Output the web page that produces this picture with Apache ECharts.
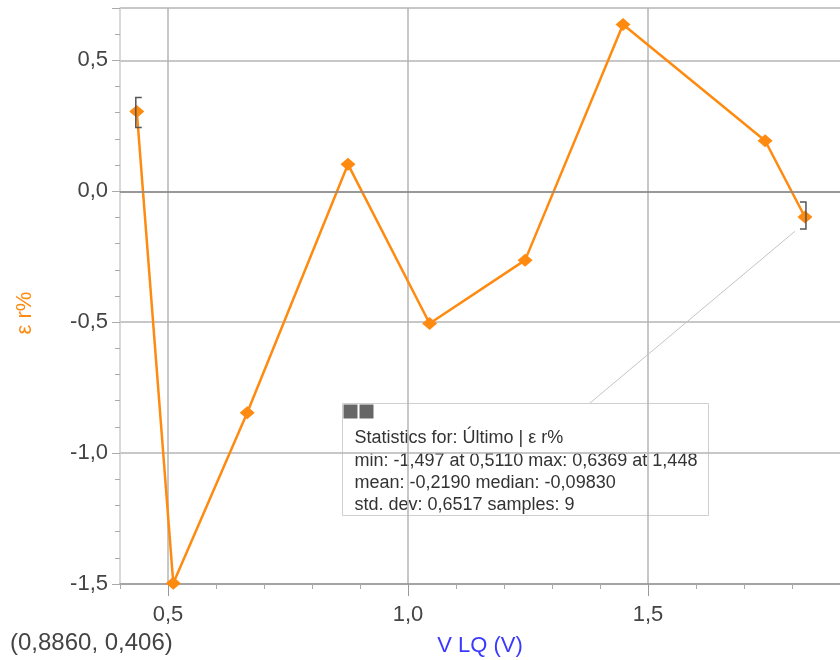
<!DOCTYPE html>
<html>
<head>
<meta charset="utf-8">
<script src="https://cdn.jsdelivr.net/npm/echarts@6/dist/echarts.min.js"></script>
<style>
  html, body { margin: 0; padding: 0; background: #fff; }
  #chart { width: 840px; height: 660px; }
</style>
</head>
<body>
<div id="chart"></div>
<script>
// Measured run: strain error vs. LQ voltage
const vlq = [0.435, 0.511, 0.665, 0.875, 1.045, 1.244, 1.448, 1.744, 1.827];
const strainErr = [0.305, -1.497, -0.846, 0.103, -0.505, -0.263, 0.6369, 0.193, -0.0983];

const xMajorTicks = [0.5, 1.0, 1.5];
const xRange = [0.4, 1.9];
const yRange = [-1.5, 0.7];

// Selection brackets at the first and last samples (index, side)
const brackets = [[0, 'left'], [8, 'right']];

// Leader line from the statistics box to the last sample
const leader = [[1.379, -0.809], [1.806, -0.153]];

const statsLines = [
  'Statistics for: Último | ε r%',
  'min: -1,497 at 0,5110 max: 0,6369 at 1,448',
  'mean: -0,2190 median: -0,09830',
  'std. dev: 0,6517 samples: 9'
];
const cursorText = '(0,8860, 0,406)';

const orange = '#ff8a10';
const font = '"Liberation Sans", Arial, sans-serif';
const fmt = v => v.toFixed(1).replace('.', ',');

const chart = echarts.init(document.getElementById('chart'));

chart.setOption({
  animation: false,
  grid: { left: 120, right: 0, top: 8, bottom: 76, outerBoundsMode: 'none', containLabel: false },
  xAxis: [
    {
      type: 'value', min: xRange[0], max: xRange[1], interval: 0.1,
      axisLine: { onZero: false, lineStyle: { color: '#999', width: 1.5 } },
      axisTick: { show: true, length: 5, lineStyle: { color: '#aaa' } },
      axisLabel: {
        customValues: xMajorTicks, formatter: fmt,
        color: '#444', fontSize: 22, fontFamily: font, margin: 20
      },
      splitLine: { show: false },
      name: 'V LQ (V)', nameLocation: 'middle', nameGap: 51,
      nameTextStyle: { color: '#3a3aff', fontSize: 22, fontFamily: font }
    },
    {
      type: 'value', min: xRange[0], max: xRange[1], position: 'bottom',
      axisLine: { show: false, onZero: false },
      axisTick: { customValues: xMajorTicks, length: 12, lineStyle: { color: '#999' } },
      axisLabel: { show: false },
      splitLine: { show: true, lineStyle: { color: '#b4b4b4', width: 1.5 } }
    }
  ],
  yAxis: {
    type: 'value', min: yRange[0], max: yRange[1], interval: 0.5,
    axisLine: { show: true, onZero: false, lineStyle: { color: '#ccc', width: 1.5 } },
    axisTick: { show: true, length: 8, lineStyle: { color: '#aaa' } },
    minorTick: { show: true, splitNumber: 5, length: 5, lineStyle: { color: '#aaa' } },
    axisLabel: {
      formatter: v => (Math.abs(v * 2 - Math.round(v * 2)) < 1e-6 ? fmt(v) : ''),
      color: '#444', fontSize: 22, fontFamily: font, margin: 12
    },
    splitLine: { show: true, lineStyle: { color: '#b4b4b4', width: 1.5 } },
    name: 'ε r%', nameLocation: 'middle', nameGap: 84,
    nameTextStyle: { color: orange, fontSize: 22, fontFamily: font, padding: [0, 0, 0, -34] }
  },
  series: [
    {
      type: 'line', xAxisIndex: 0, z: 1, silent: true,
      data: leader, symbol: 'none',
      lineStyle: { color: '#c4c4c4', width: 1 }
    },
    {
      type: 'line', xAxisIndex: 0, z: 3,
      data: vlq.map((x, i) => [x, strainErr[i]]),
      symbol: 'diamond', symbolSize: [15, 13],
      itemStyle: { color: orange },
      lineStyle: { color: orange, width: 2.5 },
      markLine: {
        silent: true, symbol: 'none', label: { show: false },
        lineStyle: { color: '#888', width: 1.5, type: 'solid' },
        data: [{ yAxis: 0 }]
      }
    },
    {
      type: 'custom', xAxisIndex: 0, z: 4, silent: true,
      data: brackets.map(b => [vlq[b[0]], strainErr[b[0]], b[1] === 'left' ? -1 : 1]),
      renderItem: (params, api) => {
        const p = api.coord([api.value(0), api.value(1)]);
        const s = api.value(2);
        const x = p[0] + s * 1;
        const top = s < 0 ? p[1] - 14 : p[1] - 15;
        const bot = s < 0 ? p[1] + 16 : p[1] + 12;
        return {
          type: 'polyline',
          shape: { points: [[x - s * 6, top], [x, top], [x, bot], [x - s * 6, bot]] },
          style: { stroke: '#555', lineWidth: 1.5, fill: null }
        };
      }
    }
  ],
  graphic: [
    {
      type: 'group', left: 342, top: 403, z: 100,
      children: [
        { type: 'rect', shape: { x: 0, y: 0, width: 366, height: 112 },
          style: { fill: '#fff', stroke: '#cfcfcf', lineWidth: 1 } },
        { type: 'rect', shape: { x: 1, y: 1, width: 14, height: 14 }, style: { fill: '#666' } },
        { type: 'rect', shape: { x: 17, y: 1, width: 14, height: 14 }, style: { fill: '#666' } },
        ...statsLines.map((t, i) => ({
          type: 'text', x: 12, y: 35 + i * 22.3,
          style: { text: t, fill: '#333', font: '18px ' + font, textVerticalAlign: 'middle' }
        }))
      ]
    },
    {
      type: 'text', left: 10, top: 631, z: 100,
      style: { text: cursorText, fill: '#444', font: '24px ' + font }
    }
  ]
});
</script>
</body>
</html>
